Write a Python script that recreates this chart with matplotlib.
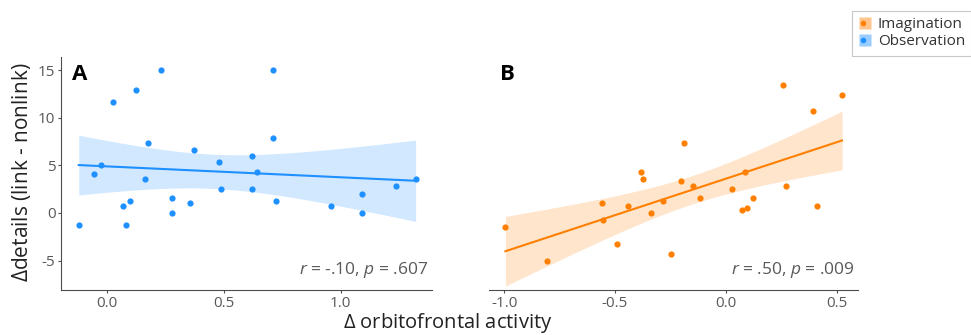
import numpy as np
import matplotlib
matplotlib.use("Agg")
import matplotlib.pyplot as plt
from matplotlib.lines import Line2D
from matplotlib.legend_handler import HandlerTuple

plt.rcParams['font.family'] = ['Open Sans', 'DejaVu Sans']
plt.rcParams['mathtext.fontset'] = 'custom'
plt.rcParams['mathtext.it'] = 'Open Sans:italic'
plt.rcParams['mathtext.rm'] = 'Open Sans'

# Panel A: Observation
obs_x = [-0.121, -0.056, -0.024, 0.024, 0.067, 0.080, 0.099, 0.123, 0.164, 0.177,
         0.229, 0.277, 0.277, 0.354, 0.371, 0.480, 0.486, 0.620, 0.620, 0.640,
         0.711, 0.711, 0.721, 0.960, 1.089, 1.089, 1.234, 1.320]
obs_y = [-1.26, 4.08, 5.09, 11.68, 0.77, -1.26, 1.26, 12.97, 3.56, 7.39,
         15.0, 1.53, 0.0, 1.01, 6.63, 5.37, 2.55, 6.0, 2.55, 4.33,
         15.0, 7.92, 1.26, 0.77, 2.02, 0.0, 2.79, 3.56]

# Panel B: Imagination
img_x = [-0.994, -0.806, -0.558, -0.555, -0.489, -0.442, -0.380, -0.373, -0.338, -0.281,
         -0.248, -0.202, -0.186, -0.146, -0.114, 0.027, 0.075, 0.087, 0.095, 0.122,
         0.259, 0.274, 0.395, 0.414, 0.525]
img_y = [-1.50, -5.06, 1.05, -0.77, -3.28, 0.77, 4.36, 3.56, 0.0, 1.26,
         -4.29, 3.31, 7.39, 2.79, 1.53, 2.55, 0.28, 4.36, 0.52, 1.53,
         13.46, 2.79, 10.67, 0.77, 12.45]

stats_a = r"$r$ = -.10, $p$ = .607"
stats_b = r"$r$ = .50, $p$ = .009"

blue = "#1E90FF"
orange = "#FF7F00"
gray_axis = "#4d4d4d"
gray_text = "#595959"

W, H = 971, 335
fig = plt.figure(figsize=(W / 100, H / 100), dpi=100)

def ax_rect(l, r, t, b):
    return [l / W, 1 - b / H, (r - l) / W, (b - t) / H]

axA = fig.add_axes(ax_rect(61, 432, 57, 290))
axB = fig.add_axes(ax_rect(489, 858, 57, 290))

def t975(df):
    table = {23: 2.069, 26: 2.056}
    return table.get(df, 2.06)

def draw(ax, x, y, color, xlim, stats, letter, left_axis):
    x = np.asarray(x); y = np.asarray(y)
    n = len(x)
    b, a = np.polyfit(x, y, 1)
    xs = np.linspace(x.min(), x.max(), 100)
    yhat = a + b * xs
    resid = y - (a + b * x)
    s = np.sqrt(np.sum(resid ** 2) / (n - 2))
    se = s * np.sqrt(1 / n + (xs - x.mean()) ** 2 / np.sum((x - x.mean()) ** 2))
    t = t975(n - 2)
    ax.fill_between(xs, yhat - t * se, yhat + t * se, color=color, alpha=0.2, lw=0, zorder=1)
    ax.plot(xs, yhat, color=color, lw=1.5, zorder=2)
    ax.scatter(x, y, s=20, color=color, zorder=3, linewidths=0)
    ax.set_xlim(*xlim)
    ax.set_ylim(-8.1, 16.4)
    ax.set_yticks([-5, 0, 5, 10, 15])
    ax.set_yticklabels(["-5", "0", "5", "10", "15"])
    for sp in ["top", "right"]:
        ax.spines[sp].set_visible(False)
    ax.spines["bottom"].set_color(gray_axis)
    ax.spines["left"].set_color(gray_axis)
    ax.tick_params(colors=gray_axis, labelcolor=gray_text, labelsize=11, length=2,
                   width=0.8, pad=2)
    if not left_axis:
        ax.spines["left"].set_visible(False)
        ax.tick_params(axis="y", left=False, labelleft=False)
    ax.text(0.99, 0.085, stats, transform=ax.transAxes, ha="right", va="center",
            fontsize=12.5, color=gray_text)
    ax.text(0.03, 0.925, letter, transform=ax.transAxes, ha="left", va="center",
            fontsize=16, fontweight="bold", color="black")

draw(axA, obs_x, obs_y, blue, (-0.197, 1.39), stats_a, "A", True)
axA.set_xticks([0.0, 0.5, 1.0])
axA.set_xticklabels(["0.0", "0.5", "1.0"])
draw(axB, img_x, img_y, orange, (-1.068, 0.597), stats_b, "B", False)
axB.set_xticks([-1.0, -0.5, 0.0, 0.5])
axB.set_xticklabels(["-1.0", "-0.5", "0.0", "0.5"])

fig.text(22 / W, 1 - 172 / H, r"$\mathit{Δ}$details (link - nonlink)", rotation=90,
         ha="center", va="center", fontsize=15, color="#222222")
fig.text(448 / W, 1 - 323 / H, r"$\mathit{Δ}$ orbitofrontal activity",
         ha="center", va="center", fontsize=14.5, color="#222222")

h1 = (Line2D([0], [0], marker="s", color="none", markerfacecolor=orange, alpha=0.45,
             markeredgecolor="none", markersize=9),
      Line2D([0], [0], marker="o", color="none", markerfacecolor=orange,
             markeredgecolor="none", markersize=4))
h2 = (Line2D([0], [0], marker="s", color="none", markerfacecolor=blue, alpha=0.45,
             markeredgecolor="none", markersize=9),
      Line2D([0], [0], marker="o", color="none", markerfacecolor=blue,
             markeredgecolor="none", markersize=4))
leg = fig.legend([h1, h2], ["Imagination", "Observation"],
                 handler_map={tuple: HandlerTuple(ndivide=None, pad=-1)},
                 loc="upper right", bbox_to_anchor=(1.008, 0.99), frameon=True,
                 fontsize=11, handlelength=0.8, handletextpad=0.5,
                 labelspacing=0.15, borderpad=0.4, fancybox=False)
leg.get_frame().set_edgecolor("#bbbbbb")
leg.get_frame().set_linewidth(0.8)
for t in leg.get_texts():
    t.set_color("#333333")

fig.savefig("out.png", dpi=100)
